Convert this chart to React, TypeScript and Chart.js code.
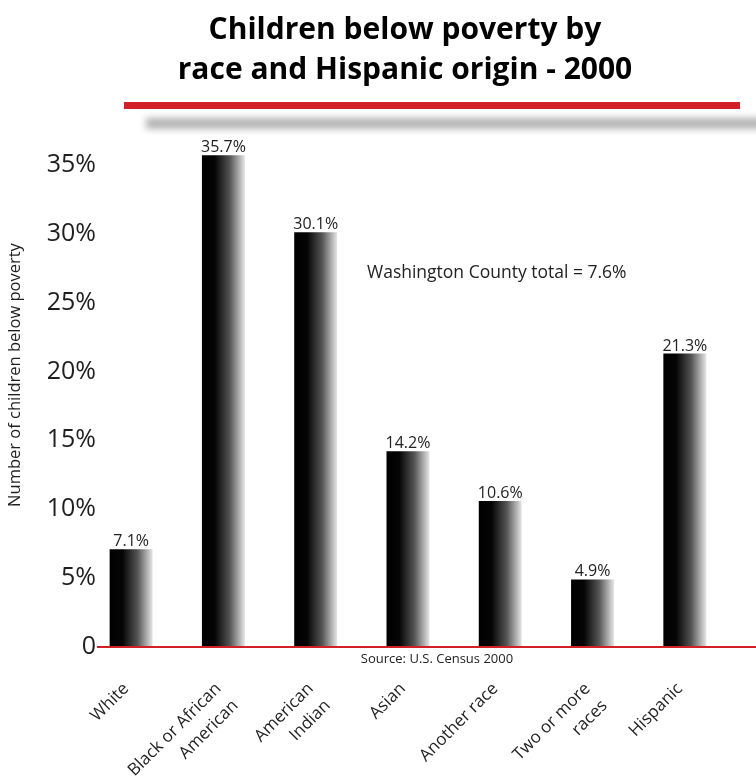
import React, { useEffect, useRef } from "react";
import { Chart, registerables } from "chart.js";

Chart.register(...registerables);

const categories: string[][] = [
  ["White"],
  ["Black or African", "American"],
  ["American", "Indian"],
  ["Asian"],
  ["Another race"],
  ["Two or more", "races"],
  ["Hispanic"],
];
const values: number[] = [7.1, 35.7, 30.1, 14.2, 10.6, 4.9, 21.3];
const yTicks: number[] = [0, 5, 10, 15, 20, 25, 30, 35];
const yTickLabels: string[] = ["0", "5%", "10%", "15%", "20%", "25%", "30%", "35%"];
const titleLines: string[] = ["Children below poverty by", "race and Hispanic origin - 2000"];
const noteText = "Washington County total = 7.6%";
const sourceText = "Source: U.S. Census 2000";
const yTitle = "Number of children below poverty";

const FONT = "'Open Sans', 'Noto Sans', sans-serif";
const BAR_PCT = 0.466;

const decorPlugin = {
  id: "decor",
  beforeDraw(chart: any) {
    const c = chart.ctx;
    c.save();
    c.fillStyle = "#000";
    c.font = `bold 30px ${FONT}`;
    c.textAlign = "center";
    c.textBaseline = "middle";
    c.fillText(titleLines[0], 405, 30);
    c.fillText(titleLines[1], 405, 70);
    c.save();
    c.filter = "blur(3.5px)";
    c.fillStyle = "#b2b2b2";
    c.fillRect(146, 118, 620, 11);
    c.restore();
    c.fillStyle = "#d32027";
    c.fillRect(124, 102, 616, 7);
    c.restore();
  },
  afterDatasetsDraw(chart: any) {
    const c = chart.ctx;
    const meta = chart.getDatasetMeta(0);
    const x = chart.scales.x;
    const y = chart.scales.y;
    const y0 = y.getPixelForValue(0);
    c.save();
    c.strokeStyle = "#d32027";
    c.lineWidth = 2;
    c.beginPath();
    c.moveTo(97, y0);
    c.lineTo(756, y0);
    c.stroke();
    c.fillStyle = "#1e1e1e";
    c.font = `25px ${FONT}`;
    c.textAlign = "right";
    c.textBaseline = "middle";
    yTicks.forEach((v, i) => {
      c.fillText(yTickLabels[i], 96, y.getPixelForValue(v));
    });
    c.save();
    c.translate(15, (chart.chartArea.top + chart.chartArea.bottom) / 2 - 24);
    c.rotate(-Math.PI / 2);
    c.font = `16.5px ${FONT}`;
    c.textAlign = "center";
    c.textBaseline = "middle";
    c.fillText(yTitle, 0, 0);
    c.restore();
    c.font = `17px ${FONT}`;
    c.textAlign = "right";
    c.textBaseline = "top";
    categories.forEach((lines, i) => {
      const px = x.getPixelForValue(i);
      c.save();
      c.translate(px - 11, y0 + 33);
      c.rotate(-Math.PI / 4);
      lines.forEach((ln, k) => c.fillText(ln, 0, k * 24));
      c.restore();
    });
    c.fillStyle = "#222";
    c.font = `16px ${FONT}`;
    c.textAlign = "center";
    c.textBaseline = "alphabetic";
    meta.data.forEach((el: any, i: number) => {
      c.fillText(values[i].toFixed(1) + "%", el.x, el.y - 3);
    });
    c.font = `17.5px ${FONT}`;
    c.textAlign = "left";
    c.textBaseline = "middle";
    c.fillText(noteText, 367, 273);
    c.font = `13px ${FONT}`;
    c.textAlign = "center";
    c.fillText(sourceText, 437, 659);
    c.restore();
  },
};

export default function App() {
  const ref = useRef<HTMLCanvasElement>(null);
  useEffect(() => {
    if (!ref.current) return;
    const chart = new Chart(ref.current, {
      type: "bar",
      data: {
        labels: categories.map((l) => l.join(" ")),
        datasets: [
          {
            data: values,
            barPercentage: BAR_PCT,
            categoryPercentage: 1,
            borderWidth: 0,
            backgroundColor: (ctx: any) => {
              const ch = ctx.chart;
              const xs = ch.scales?.x;
              if (!xs || ctx.dataIndex === undefined) return "#000";
              const cx = xs.getPixelForValue(ctx.dataIndex);
              const w = (xs.width / categories.length) * BAR_PCT;
              if (!isFinite(cx) || !isFinite(w) || w <= 0) return "#000";
              const g = ch.ctx.createLinearGradient(cx - w / 2, 0, cx + w / 2, 0);
              g.addColorStop(0, "#000");
              g.addColorStop(0.3, "#050505");
              g.addColorStop(0.65, "#555");
              g.addColorStop(1, "#e6e6e6");
              return g;
            },
          },
        ],
      },
      options: {
        animation: false,
        responsive: false,
        maintainAspectRatio: false,
        layout: { padding: { top: 151, right: 25, bottom: 0, left: 0 } },
        plugins: { legend: { display: false }, tooltip: { enabled: false }, title: { display: false } },
        scales: {
          x: {
            grid: { display: false, drawTicks: false },
            border: { display: false },
            ticks: { display: false },
            afterFit: (s: any) => {
              s.height = 135;
            },
          },
          y: {
            min: 0,
            max: 36,
            grid: { display: false, drawTicks: false },
            border: { display: false },
            ticks: { display: false },
            afterFit: (s: any) => {
              s.width = 85;
            },
          },
        },
      },
      plugins: [decorPlugin],
    });
    return () => chart.destroy();
  }, []);
  return (
    <div style={{ position: "fixed", left: 0, top: 0, width: 756, height: 782, background: "#fff" }}>
      <canvas ref={ref} width={756} height={782} style={{ display: "block" }} />
    </div>
  );
}
